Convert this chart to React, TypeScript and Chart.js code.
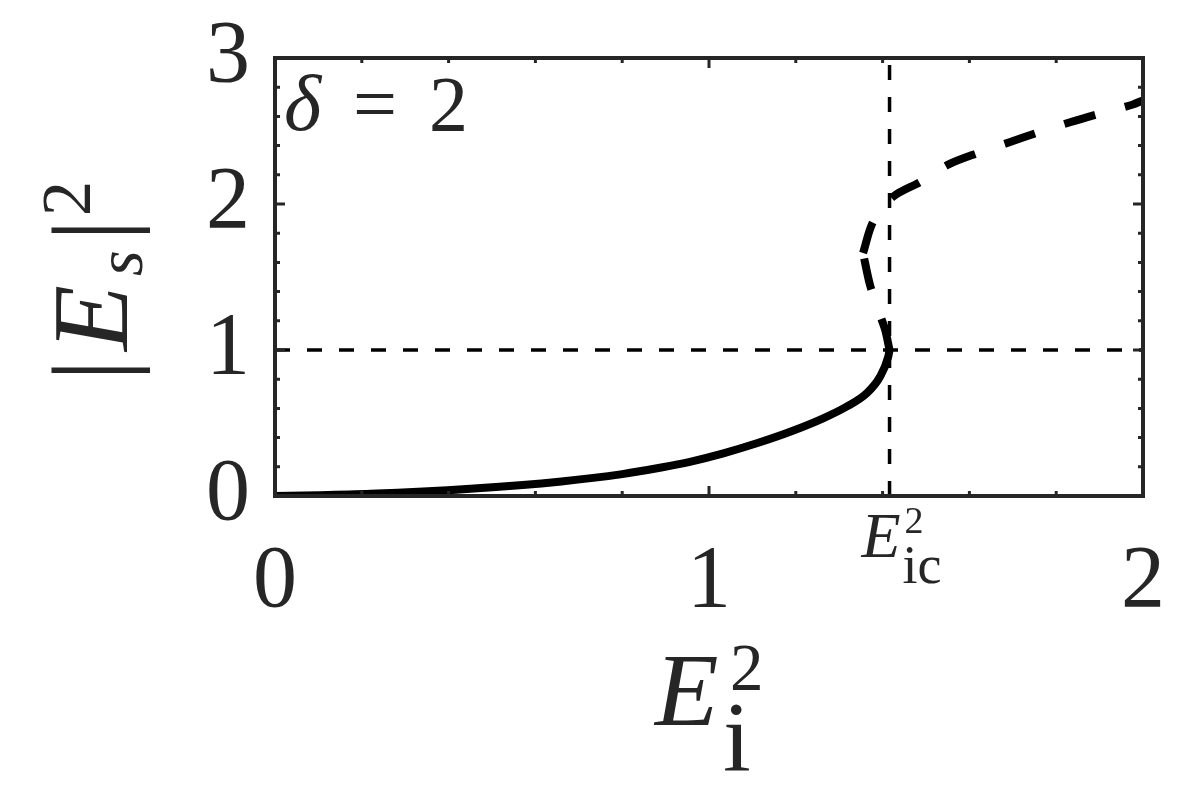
import { useEffect, useRef } from "react";
import { Chart, registerables } from "chart.js";

Chart.register(...registerables);

// ---- data ----
const xMin = 0;
const xMax = 2;
const yMin = 0;
const yMax = 3;
const xTickValues = [0, 1, 2];
const yTickValues = [0, 1, 2, 3];
const minorStep = 0.2;

// stable lower branch (solid)
const lowerX = [0, 0.1, 0.22, 0.45, 0.66, 0.8, 0.89, 0.956, 1.033, 1.11, 1.187, 1.263, 1.317, 1.363, 1.394, 1.413, 1.416];
const lowerY = [0, 0.005, 0.015, 0.05, 0.1, 0.15, 0.195, 0.234, 0.292, 0.361, 0.44, 0.532, 0.612, 0.703, 0.817, 0.954, 1.0];

// middle branch (dashed) up to the turning point
const middleX = [1.416, 1.406, 1.394, 1.371, 1.355];
const middleY = [1.0, 1.137, 1.24, 1.445, 1.664];

// upper branch (dashed) from the turning point
const upperX = [1.355, 1.378, 1.424, 1.486, 1.551, 1.62, 1.689, 1.758, 1.832, 1.901, 1.975, 2.0];
const upperY = [1.664, 1.877, 2.05, 2.15, 2.27, 2.35, 2.42, 2.49, 2.56, 2.62, 2.68, 2.71];

// reference lines
const criticalX = 1.416; // E_ic^2
const thresholdY = 1;

const INK = "#262626";
const SERIF = "'Liberation Serif', 'DejaVu Serif', serif";

function putInk(ctx: CanvasRenderingContext2D, text: string, inkLeft: number, baseline: number) {
  const m = ctx.measureText(text);
  ctx.fillText(text, inkLeft + m.actualBoundingBoxLeft, baseline);
}

function putCenter(ctx: CanvasRenderingContext2D, text: string, cx: number, baseline: number) {
  const m = ctx.measureText(text);
  ctx.fillText(text, cx - (m.actualBoundingBoxRight - m.actualBoundingBoxLeft) / 2, baseline);
}

const decorPlugin = {
  id: "decor",
  afterDraw(chart: any) {
    const { ctx, chartArea: a, scales } = chart;
    const xs = scales.x;
    const ys = scales.y;
    ctx.save();
    // ticks inside, on all four sides
    ctx.strokeStyle = INK;
    ctx.lineWidth = 3;
    const nx = Math.round((xMax - xMin) / minorStep);
    for (let i = 0; i <= nx; i++) {
      const v = xMin + i * minorStep;
      const major = xTickValues.some((t) => Math.abs(t - v) < 1e-6);
      const len = major ? 10 : 5;
      const px = xs.getPixelForValue(v);
      ctx.beginPath();
      ctx.moveTo(px, a.bottom);
      ctx.lineTo(px, a.bottom - len);
      ctx.moveTo(px, a.top);
      ctx.lineTo(px, a.top + len);
      ctx.stroke();
    }
    const ny = Math.round((yMax - yMin) / minorStep);
    for (let i = 0; i <= ny; i++) {
      const v = yMin + i * minorStep;
      const major = yTickValues.some((t) => Math.abs(t - v) < 1e-6);
      const len = major ? 10 : 5;
      const py = ys.getPixelForValue(v);
      ctx.beginPath();
      ctx.moveTo(a.left, py);
      ctx.lineTo(a.left + len, py);
      ctx.moveTo(a.right, py);
      ctx.lineTo(a.right - len, py);
      ctx.stroke();
    }
    // frame
    ctx.lineWidth = 4;
    ctx.strokeRect(a.left, a.top, a.right - a.left, a.bottom - a.top);

    // texts
    ctx.fillStyle = INK;
    ctx.textBaseline = "alphabetic";
    ctx.textAlign = "left";

    // delta = 2
    ctx.font = `italic 80px ${SERIF}`;
    putInk(ctx, "δ", 286, 130);
    ctx.font = `78px ${SERIF}`;
    putCenter(ctx, "=", 375, 130);
    putInk(ctx, "2", 432, 130);

    // E_ic^2 marker label under the axis
    const cx = xs.getPixelForValue(criticalX);
    ctx.font = `italic 64px ${SERIF}`;
    putInk(ctx, "E", cx - 29, 557);
    ctx.font = `38px ${SERIF}`;
    putInk(ctx, "2", cx + 16, 533);
    ctx.font = `54px ${SERIF}`;
    putInk(ctx, "ic", cx + 14, 583);

    // x-axis title E_i^2
    ctx.font = `italic 104px ${SERIF}`;
    putInk(ctx, "E", 653, 725);
    ctx.font = `67px ${SERIF}`;
    putInk(ctx, "2", 732, 690);
    ctx.font = `100px ${SERIF}`;
    putInk(ctx, "i", 725, 770);

    // y-axis title |E_s|^2 (rotated)
    ctx.save();
    ctx.translate(127, 372);
    ctx.rotate(-Math.PI / 2);
    ctx.font = `108px ${SERIF}`;
    putCenter(ctx, "|", 2, 0);
    putCenter(ctx, "|", 142, 0);
    ctx.font = `italic 108px ${SERIF}`;
    putInk(ctx, "E", 19, 0);
    ctx.font = `italic 66px ${SERIF}`;
    putInk(ctx, "s", 96, 15);
    ctx.font = `70px ${SERIF}`;
    putInk(ctx, "2", 159, -37);
    ctx.restore();

    ctx.restore();
  },
};

function pts(xs: number[], ys: number[]) {
  return xs.map((x, i) => ({ x, y: ys[i] }));
}

export default function App() {
  const ref = useRef<HTMLCanvasElement>(null);
  useEffect(() => {
    const canvas = ref.current;
    if (!canvas) return;
    const chart = new Chart(canvas, {
      type: "scatter",
      data: {
        datasets: [
          {
            data: [{ x: criticalX, y: yMin }, { x: criticalX, y: yMax }],
            showLine: true,
            borderColor: "#000",
            borderWidth: 3.5,
            borderDash: [15, 17],
            pointRadius: 0,
          },
          {
            data: [{ x: xMin, y: thresholdY }, { x: xMax, y: thresholdY }],
            showLine: true,
            borderColor: "#000",
            borderWidth: 3.5,
            borderDash: [15, 17],
            pointRadius: 0,
          },
          {
            data: pts(lowerX, lowerY),
            showLine: true,
            borderColor: "#000",
            borderWidth: 8,
            pointRadius: 0,
            cubicInterpolationMode: "monotone",
          },
          {
            data: pts(middleX, middleY),
            showLine: true,
            borderColor: "#000",
            borderWidth: 8,
            borderDash: [32, 31],
            pointRadius: 0,
            tension: 0.3,
          },
          {
            data: pts(upperX, upperY),
            showLine: true,
            borderColor: "#000",
            borderWidth: 8,
            borderDash: [32, 31],
            pointRadius: 0,
            tension: 0.3,
          },
        ],
      },
      options: {
        responsive: false,
        animation: false,
        layout: { padding: { top: 58, right: 57, left: 0, bottom: 0 } },
        plugins: { legend: { display: false }, tooltip: { enabled: false } },
        scales: {
          x: {
            type: "linear",
            min: xMin,
            max: xMax,
            grid: { display: false, drawTicks: false },
            border: { display: false },
            ticks: {
              stepSize: 1,
              padding: 2,
              maxRotation: 0,
              color: INK,
              font: { family: SERIF, size: 88, lineHeight: 1.93 },
            },
            afterFit: (s: any) => {
              s.height = 304;
            },
          },
          y: {
            type: "linear",
            min: yMin,
            max: yMax,
            grid: { display: false, drawTicks: false },
            border: { display: false },
            ticks: {
              stepSize: 1,
              padding: 25,
              color: INK,
              font: { family: SERIF, size: 88, lineHeight: 0.5 },
            },
            afterFit: (s: any) => {
              s.width = 275;
            },
          },
        },
      } as any,
      plugins: [decorPlugin],
    });
    return () => chart.destroy();
  }, []);
  return (
    <div style={{ position: "absolute", left: 0, top: 0, width: 1200, height: 800, background: "#fff" }}>
      <canvas ref={ref} width={1200} height={800} style={{ display: "block" }} />
    </div>
  );
}
